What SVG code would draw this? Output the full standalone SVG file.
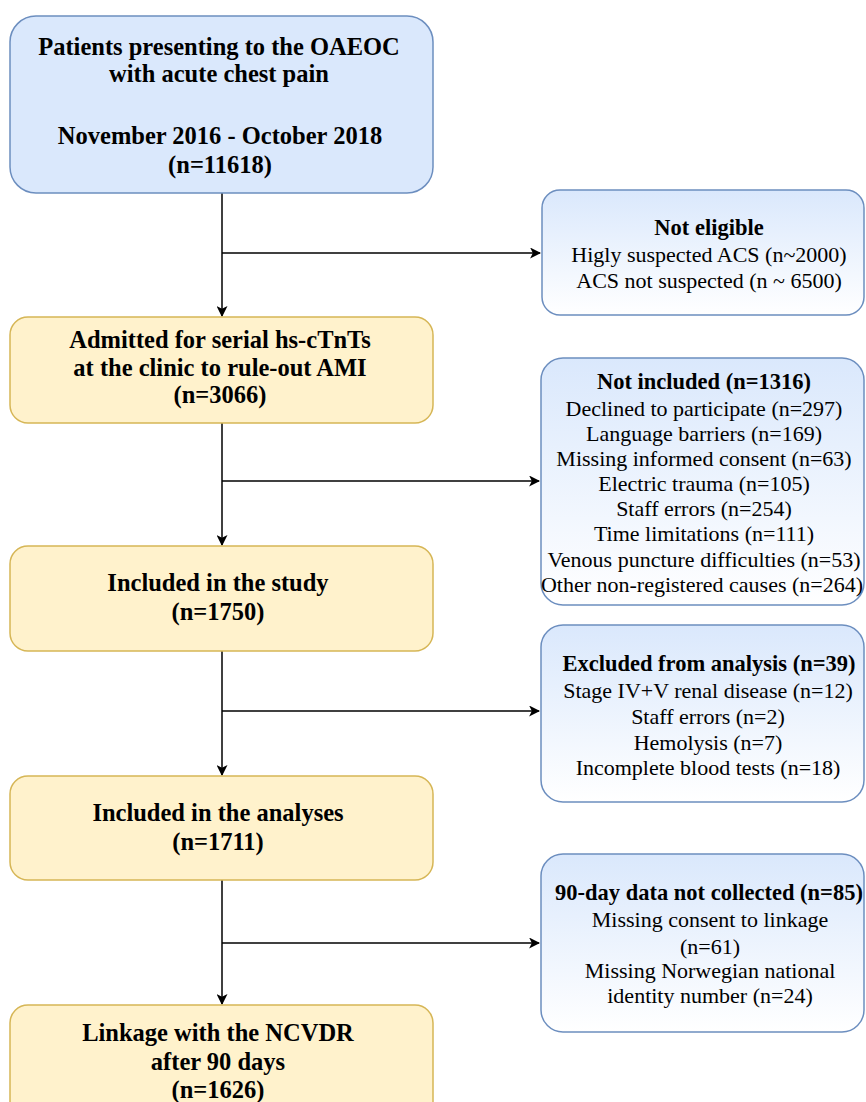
<svg xmlns="http://www.w3.org/2000/svg" width="866" height="1102" viewBox="0 0 866 1102">
  <style>
    .main-blue { fill: #dae8fc; stroke: #6c8ebf; stroke-width: 1.5; }
    .main-yellow { fill: #fff2cc; stroke: #d6b656; stroke-width: 1.5; }
    .side { fill: url(#sideFill); stroke: #6c8ebf; stroke-width: 1.5; }
    .t { font-family: "Liberation Serif", "Times New Roman", serif; fill: #000; text-anchor: middle; }
    .b { font-weight: bold; font-size: 24.5px; }
    .r { font-size: 22px; }
    .sb { font-weight: bold; font-size: 22.5px; }
    .conn { stroke: #000; stroke-width: 1.5; fill: none; }
  </style>
  <defs>
    <linearGradient id="sideFill" x1="0" y1="0" x2="0" y2="1">
      <stop offset="0" stop-color="#dae8fc"/>
      <stop offset="1" stop-color="#ffffff"/>
    </linearGradient>
    <marker id="arrow" viewBox="0 0 10 10" refX="9" refY="5" markerWidth="11" markerHeight="11" markerUnits="userSpaceOnUse" orient="auto">
      <path d="M0,0 L10,5 L0,10 L2.5,5 Z" fill="#000"/>
    </marker>
  </defs>

  <!-- connectors -->
  <g id="connectors">
    <line class="conn" x1="222" y1="193" x2="222" y2="316" marker-end="url(#arrow)"/>
    <line class="conn" x1="222" y1="253" x2="540" y2="253" marker-end="url(#arrow)"/>
    <line class="conn" x1="222" y1="423" x2="222" y2="545" marker-end="url(#arrow)"/>
    <line class="conn" x1="222" y1="481" x2="539" y2="481" marker-end="url(#arrow)"/>
    <line class="conn" x1="222" y1="651" x2="222" y2="775" marker-end="url(#arrow)"/>
    <line class="conn" x1="222" y1="711" x2="539" y2="711" marker-end="url(#arrow)"/>
    <line class="conn" x1="222" y1="880" x2="222" y2="1004" marker-end="url(#arrow)"/>
    <line class="conn" x1="222" y1="943" x2="539" y2="943" marker-end="url(#arrow)"/>
  </g>

  <g id="patients">
    <rect class="main-blue" x="10" y="16" width="423" height="177" rx="26"/>
    <text class="t b" x="219" y="55">Patients presenting to the OAEOC</text>
    <text class="t b" x="219" y="82">with acute chest pain</text>
    <text class="t b" x="220" y="144">November 2016 - October 2018</text>
    <text class="t b" x="220" y="173">(n=11618)</text>
  </g>

  <g id="not-eligible">
    <rect class="side" x="542" y="190" width="322" height="125" rx="18"/>
    <text class="t sb" x="709" y="235">Not eligible</text>
    <text class="t r" x="709" y="262">Higly suspected ACS (n~2000)</text>
    <text class="t r" x="709" y="288">ACS not suspected (n ~ 6500)</text>
  </g>

  <g id="admitted">
    <rect class="main-yellow" x="10" y="317" width="423" height="106" rx="18"/>
    <text class="t b" x="220" y="348">Admitted for serial hs-cTnTs</text>
    <text class="t b" x="220" y="376">at the clinic to rule-out AMI</text>
    <text class="t b" x="220" y="403">(n=3066)</text>
  </g>

  <g id="not-included">
    <rect class="side" x="541" y="358" width="323" height="247" rx="22"/>
    <text class="t sb" x="704" y="389">Not included (n=1316)</text>
    <text class="t r" x="704" y="416">Declined to participate (n=297)</text>
    <text class="t r" x="704" y="441">Language barriers (n=169)</text>
    <text class="t r" x="704" y="466">Missing informed consent (n=63)</text>
    <text class="t r" x="704" y="491">Electric trauma (n=105)</text>
    <text class="t r" x="704" y="516">Staff errors (n=254)</text>
    <text class="t r" x="704" y="541">Time limitations (n=111)</text>
    <text class="t r" x="704" y="567">Venous puncture difficulties (n=53)</text>
    <text class="t r" x="702" y="592">Other non-registered causes (n=264)</text>
  </g>

  <g id="included-study">
    <rect class="main-yellow" x="10" y="546" width="423" height="105" rx="18"/>
    <text class="t b" x="218" y="591">Included in the study</text>
    <text class="t b" x="218" y="620">(n=1750)</text>
  </g>

  <g id="excluded">
    <rect class="side" x="541" y="625" width="323" height="177" rx="22"/>
    <text class="t sb" x="709" y="671">Excluded from analysis (n=39)</text>
    <text class="t r" x="708" y="698">Stage IV+V renal disease (n=12)</text>
    <text class="t r" x="708" y="724">Staff errors (n=2)</text>
    <text class="t r" x="708" y="750">Hemolysis (n=7)</text>
    <text class="t r" x="708" y="775">Incomplete blood tests (n=18)</text>
  </g>

  <g id="included-analyses">
    <rect class="main-yellow" x="10" y="776" width="423" height="104" rx="18"/>
    <text class="t b" x="218" y="821">Included in the analyses</text>
    <text class="t b" x="218" y="850">(n=1711)</text>
  </g>

  <g id="not-collected">
    <rect class="side" x="541" y="854" width="323" height="178" rx="22"/>
    <text class="t sb" x="709" y="900">90-day data not collected (n=85)</text>
    <text class="t r" x="710" y="927">Missing consent to linkage</text>
    <text class="t r" x="710" y="954">(n=61)</text>
    <text class="t r" x="710" y="978">Missing Norwegian national</text>
    <text class="t r" x="710" y="1003">identity number (n=24)</text>
  </g>

  <g id="linkage">
    <rect class="main-yellow" x="10" y="1005" width="423" height="120" rx="18"/>
    <text class="t b" x="218" y="1041">Linkage with the NCVDR</text>
    <text class="t b" x="218" y="1070">after 90 days</text>
    <text class="t b" x="218" y="1098">(n=1626)</text>
  </g>
</svg>
